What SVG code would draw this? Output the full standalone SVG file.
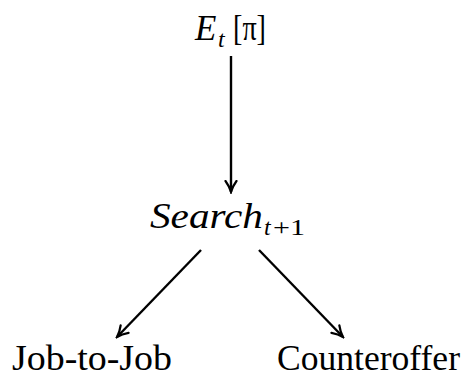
<svg xmlns="http://www.w3.org/2000/svg" width="467" height="377" viewBox="0 0 467 377">
<style>
.it{font-style:italic}
.c{stroke:#000;stroke-width:2.4;fill:none}
</style>
<defs>
<marker id="ah" viewBox="0 0 14 14" refX="12.5" refY="7" markerWidth="14" markerHeight="14" markerUnits="userSpaceOnUse" orient="auto">
<path d="M1.5,1.5 Q7,5.5 12.5,7 Q7,8.5 1.5,12.5" fill="none" stroke="#000" stroke-width="2.2" stroke-linecap="round"/>
</marker>
</defs>
<rect width="467" height="377" fill="#fff"/>
<g font-family="Liberation Serif, serif" fill="#000">
<g id="n_expect">
<text x="195" y="40" font-size="35" class="it">E</text>
<text x="218" y="47" font-size="24" class="it">t</text>
<text x="233" y="40" font-size="35" textLength="33" lengthAdjust="spacingAndGlyphs">[π]</text>
</g>
<g id="n_search">
<text x="150" y="228" font-size="35" class="it" textLength="113" lengthAdjust="spacingAndGlyphs">Search</text>
<text x="264" y="235" font-size="24" class="it">t</text>
<text x="273" y="235" font-size="24" textLength="32" lengthAdjust="spacingAndGlyphs">+1</text>
</g>
<g id="n_j2j">
<text x="12" y="370" font-size="35" textLength="160" lengthAdjust="spacingAndGlyphs">Job-to-Job</text>
</g>
<g id="n_counter">
<text x="277" y="370" font-size="35" textLength="183" lengthAdjust="spacingAndGlyphs">Counteroffer</text>
</g>
</g>
<g id="connectors">
<line class="c" x1="231" y1="56" x2="231" y2="192" marker-end="url(#ah)"/>
<line class="c" x1="201" y1="250" x2="117" y2="337" marker-end="url(#ah)"/>
<line class="c" x1="259" y1="250" x2="343" y2="337" marker-end="url(#ah)"/>
</g>
</svg>
